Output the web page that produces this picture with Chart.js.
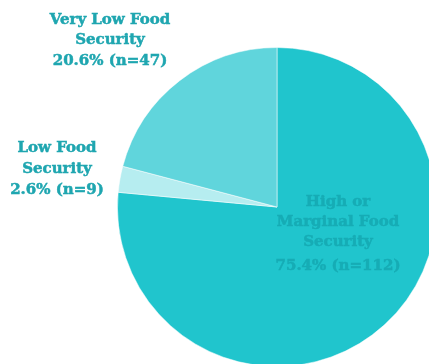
<!DOCTYPE html>
<html><head><meta charset="utf-8">
<script src="https://cdn.jsdelivr.net/npm/chart.js@4"></script>
<style>
html,body{margin:0;padding:0;width:429px;height:364px;overflow:hidden;background:#fff;}
#wrap{position:absolute;left:0;top:0;width:460px;height:400px;}
</style></head><body>
<div id="wrap"><canvas id="c" width="460" height="400"></canvas></div>
<script>
const categories = ["High or Marginal Food Security", "Low Food Security", "Very Low Food Security"];
const percents = [75.4, 2.6, 20.6];
const counts = [112, 9, 47];
const labelLines = [
  ["High or", "Marginal Food", "Security"],
  ["Low Food", "Security"],
  ["Very Low Food", "Security"]
];
const colors = ["#20c5cd", "#b6edf0", "#60d5dc"];

const labelPos = [
  {x: 338, y: 202, dy: 20, color: "#16acb5"},
  {x: 57, y: 148, dy: 21, color: "#1fa6b0"},
  {x: 110, y: 20, dy: 20.5, color: "#1fa6b0"}
];

const labelPlugin = {
  id: 'labels',
  afterDraw(chart) {
    const ctx = chart.ctx;
    ctx.save();
    ctx.textAlign = 'center';
    ctx.textBaseline = 'middle';
    ctx.font = 'bold 15px "DejaVu Serif"';
    ctx.lineWidth = 0.5;
    labelLines.forEach((lines, i) => {
      const p = labelPos[i];
      ctx.fillStyle = p.color;
      ctx.strokeStyle = p.color;
      const all = lines.concat([percents[i].toFixed(1) + "% (n=" + counts[i] + ")"]);
      all.forEach((t, j) => {
        let y = p.y + j * p.dy;
        if (i === 0 && j === all.length - 1) y += 4;
        ctx.fillText(t, p.x, y);
        ctx.strokeText(t, p.x, y);
      });
    });
    ctx.restore();
  }
};

new Chart(document.getElementById('c'), {
  type: 'pie',
  data: {
    labels: categories,
    datasets: [{
      data: percents,
      backgroundColor: colors,
      borderColor: 'rgba(255,255,255,0.5)',
      borderWidth: 1
    }]
  },
  options: {
    responsive: false,
    animation: false,
    layout: {padding: {left: 117, top: 47, right: 23, bottom: 33}},
    plugins: {legend: {display: false}, tooltip: {enabled: false}}
  },
  plugins: [labelPlugin]
});
</script>
</body></html>
